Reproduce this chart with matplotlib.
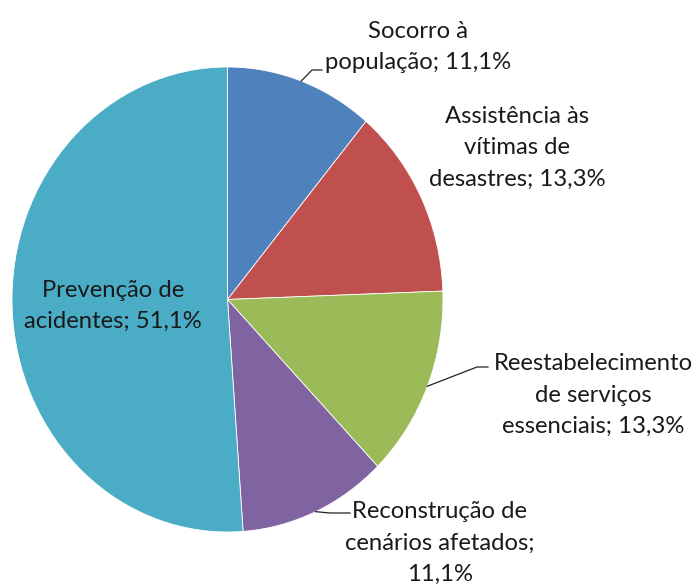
"""Pie chart: distribution of civil defence actions (reference recreation)."""

import numpy as np
import matplotlib

matplotlib.use("Agg")
import matplotlib.pyplot as plt

# --- data ------------------------------------------------------------------------
labels = [
    "Socorro à\npopulação; 11,1%",
    "Assistência às\nvítimas de\ndesastres; 13,3%",
    "Reestabelecimento\nde serviços\nessenciais; 13,3%",
    "Reconstrução de\ncenários afetados;\n11,1%",
    "Prevenção de\nacidentes; 51,1%",
]
shares = [11.1, 13.3, 13.3, 11.1, 51.1]
colors = ["#4F81BD", "#C0504D", "#9BBB59", "#8064A2", "#4BACC6"]

# --- layout (pixels of the 696x587 canvas) -----------------------------------------
W, H = 696, 587
CX, CY = 227.5, 299.5          # pie centre
RX, RY = 215.5, 232.5          # the source image is slightly stretched vertically

# label centres and leader elbows/ends (None = label sits inside the wedge)
label_pos = [(418, 47), (517, 148), (593, 395), (440, 543), (113, 306)]
leaders = [
    [(312, 70), (322, 70)],
    None,
    [(477, 367), (488, 367)],
    [(330, 513), (350, 513)],
    None,
]

FONT = ["Lato", "DejaVu Sans"]
FONTSIZE = 17.2


def to_data(px, py):
    return (px - CX) / RX, (CY - py) / RY


fig = plt.figure(figsize=(W / 100, H / 100), dpi=100)
ax = fig.add_axes([0, 0, 1, 1])

wedges, _ = ax.pie(
    shares,
    colors=colors,
    startangle=90,
    counterclock=False,
    radius=1,
    wedgeprops=dict(edgecolor="white", linewidth=0.6),
)
ax.set_aspect("auto")
x0, y0 = to_data(0, H)
x1, y1 = to_data(W, 0)
ax.set_xlim(x0, x1)
ax.set_ylim(y0, y1)
ax.axis("off")

for wedge, text, pos, leader in zip(wedges, labels, label_pos, leaders):
    tx, ty = to_data(*pos)
    ax.text(tx, ty, text, ha="center", va="center", multialignment="center",
            family=FONT, fontsize=FONTSIZE, color="#1a1a1a", linespacing=1.6)
    if leader is None:
        continue
    mid = np.deg2rad((wedge.theta1 + wedge.theta2) / 2)
    pts = [(np.cos(mid), np.sin(mid))] + [to_data(*p) for p in leader]
    xs, ys = zip(*pts)
    ax.plot(xs, ys, color="#222222", linewidth=0.9, clip_on=False)

fig.savefig("out.png", dpi=100)
